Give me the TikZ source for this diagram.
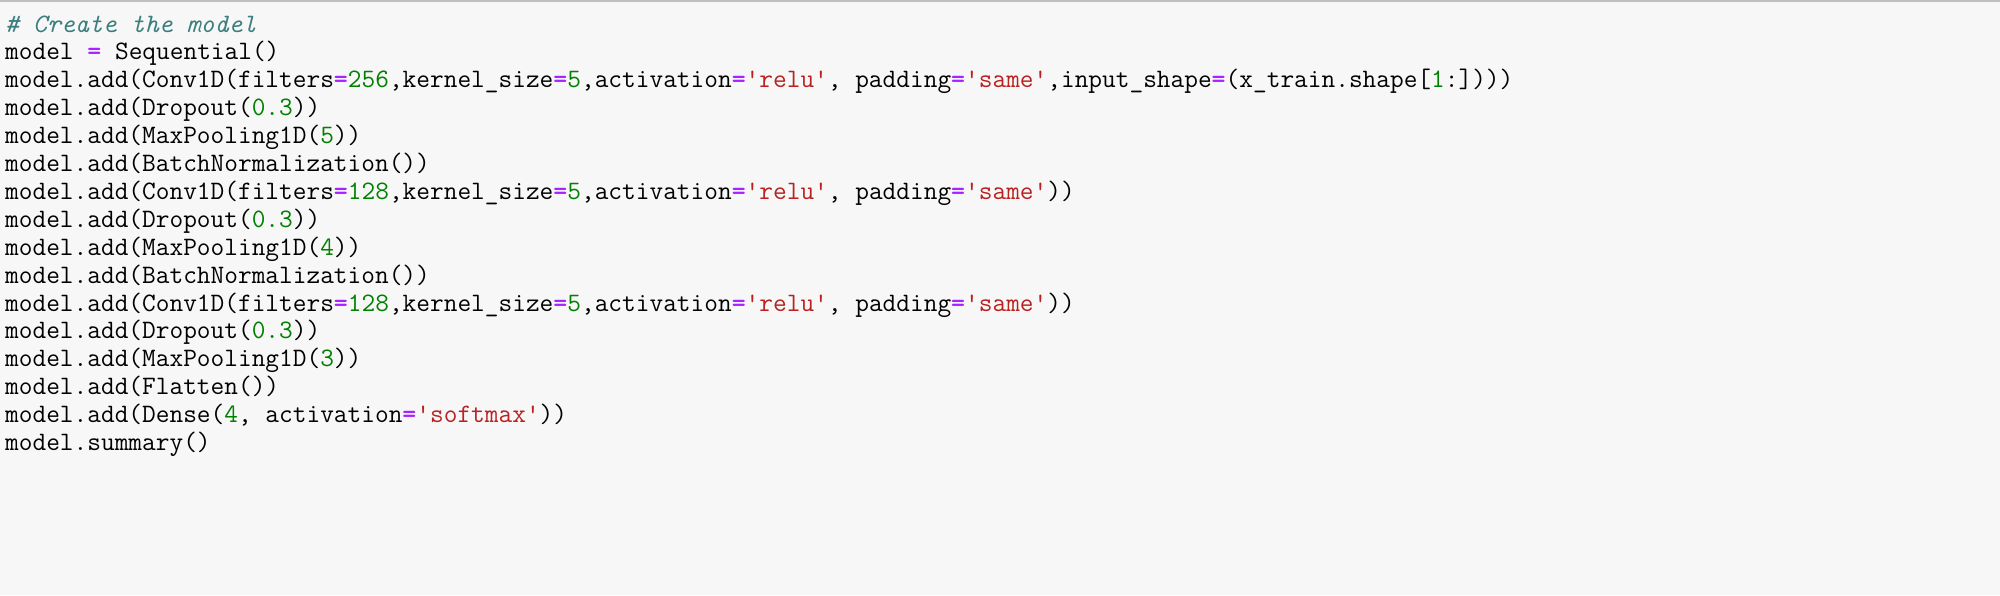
\documentclass[tikz,border=0pt]{standalone}
\usepackage{fontspec}
\definecolor{bgc}{HTML}{F7F7F7}
\definecolor{cmt}{HTML}{3D7F7F}
\definecolor{opc}{HTML}{AA22FF}
\definecolor{numc}{HTML}{008000}
\definecolor{strc}{HTML}{BA2121}
\newcommand\myop{{\color{opc}\bfseries=}}
\newcommand\mynum[1]{{\color{numc}#1}}
\newcommand\mystr[1]{{\color{strc}#1}}
\begin{document}
\begin{tikzpicture}[x=1pt,y=1pt,
  codeline/.style={anchor=base west,inner sep=0pt,font=\ttfamily\fontsize{26.6}{28}\selectfont}]
\useasboundingbox (0,0) rectangle (2000,-595);
\fill[bgc] (0,0) rectangle (2000,-595);
\draw[black!25,line width=2pt] (0,-1) -- (2000,-1);
\node[codeline] (l1) at (5,-32) {{\color{cmt}\itshape \# Create the model}};
\node[codeline] (l2) at (5,-59.9) {model \myop{} Sequential()};
\node[codeline] (l3) at (5,-87.8) {model.add(Conv1D(filters\myop\mynum{256},kernel\_size\myop\mynum{5},activation\myop\mystr{'relu'}, padding\myop\mystr{'same'},input\_shape\myop(x\_train.shape[\mynum{1}:])))};
\node[codeline] (l4) at (5,-115.7) {model.add(Dropout(\mynum{0.3}))};
\node[codeline] (l5) at (5,-143.6) {model.add(MaxPooling1D(\mynum{5}))};
\node[codeline] (l6) at (5,-171.5) {model.add(BatchNormalization())};
\node[codeline] (l7) at (5,-199.4) {model.add(Conv1D(filters\myop\mynum{128},kernel\_size\myop\mynum{5},activation\myop\mystr{'relu'}, padding\myop\mystr{'same'}))};
\node[codeline] (l8) at (5,-227.3) {model.add(Dropout(\mynum{0.3}))};
\node[codeline] (l9) at (5,-255.2) {model.add(MaxPooling1D(\mynum{4}))};
\node[codeline] (l10) at (5,-283.1) {model.add(BatchNormalization())};
\node[codeline] (l11) at (5,-311.0) {model.add(Conv1D(filters\myop\mynum{128},kernel\_size\myop\mynum{5},activation\myop\mystr{'relu'}, padding\myop\mystr{'same'}))};
\node[codeline] (l12) at (5,-338.9) {model.add(Dropout(\mynum{0.3}))};
\node[codeline] (l13) at (5,-366.8) {model.add(MaxPooling1D(\mynum{3}))};
\node[codeline] (l14) at (5,-394.7) {model.add(Flatten())};
\node[codeline] (l15) at (5,-422.6) {model.add(Dense(\mynum{4}, activation\myop\mystr{'softmax'}))};
\node[codeline] (l16) at (5,-450.5) {model.summary()};
\end{tikzpicture}
\end{document}
